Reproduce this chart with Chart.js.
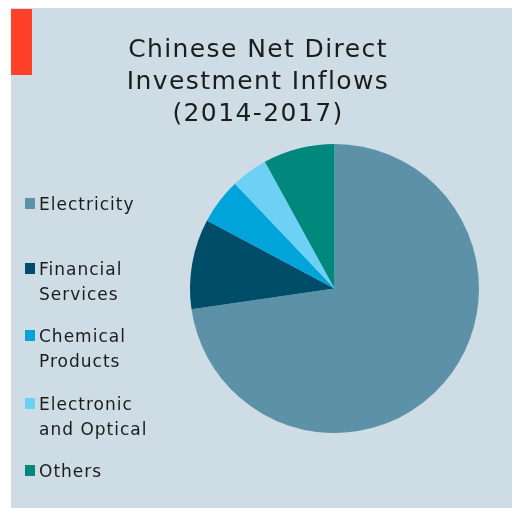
<!DOCTYPE html>
<html>
<head>
<meta charset="utf-8">
<script src="https://cdn.jsdelivr.net/npm/chart.js@4/dist/chart.umd.min.js"></script>
<style>
  html, body { margin: 0; padding: 0; background: #fff; }
  #wrap { position: relative; width: 512px; height: 508px; }
</style>
</head>
<body>
<div id="wrap"><canvas id="chart" width="512" height="508"></canvas></div>
<script>
// ── Data ──────────────────────────────────────────────────────────────────────
const titleLines = ['Chinese Net Direct', 'Investment Inflows', '(2014-2017)'];
const sectors    = ['Electricity', 'Financial Services', 'Chemical Products', 'Electronic and Optical', 'Others'];
const legendText = [['Electricity'], ['Financial', 'Services'], ['Chemical', 'Products'], ['Electronic', 'and Optical'], ['Others']];
const shares     = [72.7, 10.1, 5.1, 4.1, 8.0];
const colors     = ['#5d91a8', '#004d6a', '#00a3da', '#6dd1f5', '#00887d'];

const PANEL_BG = '#cedde5';
const TEXT     = '#1c1c1c';
const FONT     = '"DejaVu Sans", Verdana, sans-serif';

// panel, red tab, title and side legend drawn around the pie
const decor = {
  id: 'decor',
  beforeDraw(chart) {
    const ctx = chart.ctx;
    ctx.save();
    ctx.fillStyle = PANEL_BG;
    ctx.fillRect(11, 8, chart.width - 11, chart.height - 8);
    ctx.fillStyle = '#ff412a';
    ctx.fillRect(11, 9, 21, 66);
    ctx.restore();
  },
  afterDraw(chart) {
    const ctx = chart.ctx;
    ctx.save();
    ctx.fillStyle = TEXT;
    ctx.textBaseline = 'alphabetic';

    // title
    ctx.font = `25px ${FONT}`;
    ctx.letterSpacing = '1.4px';
    ctx.textAlign = 'center';
    titleLines.forEach((t, i) => ctx.fillText(t, 258, 56.5 + i * 32.3));

    // legend
    const baselines = [210, 275, 342, 410, 477];
    ctx.font = `17px ${FONT}`;
    ctx.letterSpacing = '1px';
    ctx.textAlign = 'left';
    legendText.forEach((lines, i) => {
      const y = baselines[i];
      ctx.fillStyle = chart.data.datasets[0].backgroundColor[i];
      ctx.fillRect(25, y - 12, 10, 11);
      ctx.fillStyle = TEXT;
      lines.forEach((l, j) => ctx.fillText(l, 39, y + j * 24.5));
    });
    ctx.restore();
  },
};

new Chart(document.getElementById('chart'), {
  type: 'pie',
  data: {
    labels: sectors,
    datasets: [{
      data: shares,
      backgroundColor: colors,
      borderWidth: 0,
    }],
  },
  options: {
    responsive: false,
    animation: false,
    layout: { padding: { left: 190, right: 33, top: 144, bottom: 75 } },
    plugins: {
      legend: { display: false },
      title: { display: false },
      tooltip: { enabled: false },
    },
  },
  plugins: [decor],
});
</script>
</body>
</html>
